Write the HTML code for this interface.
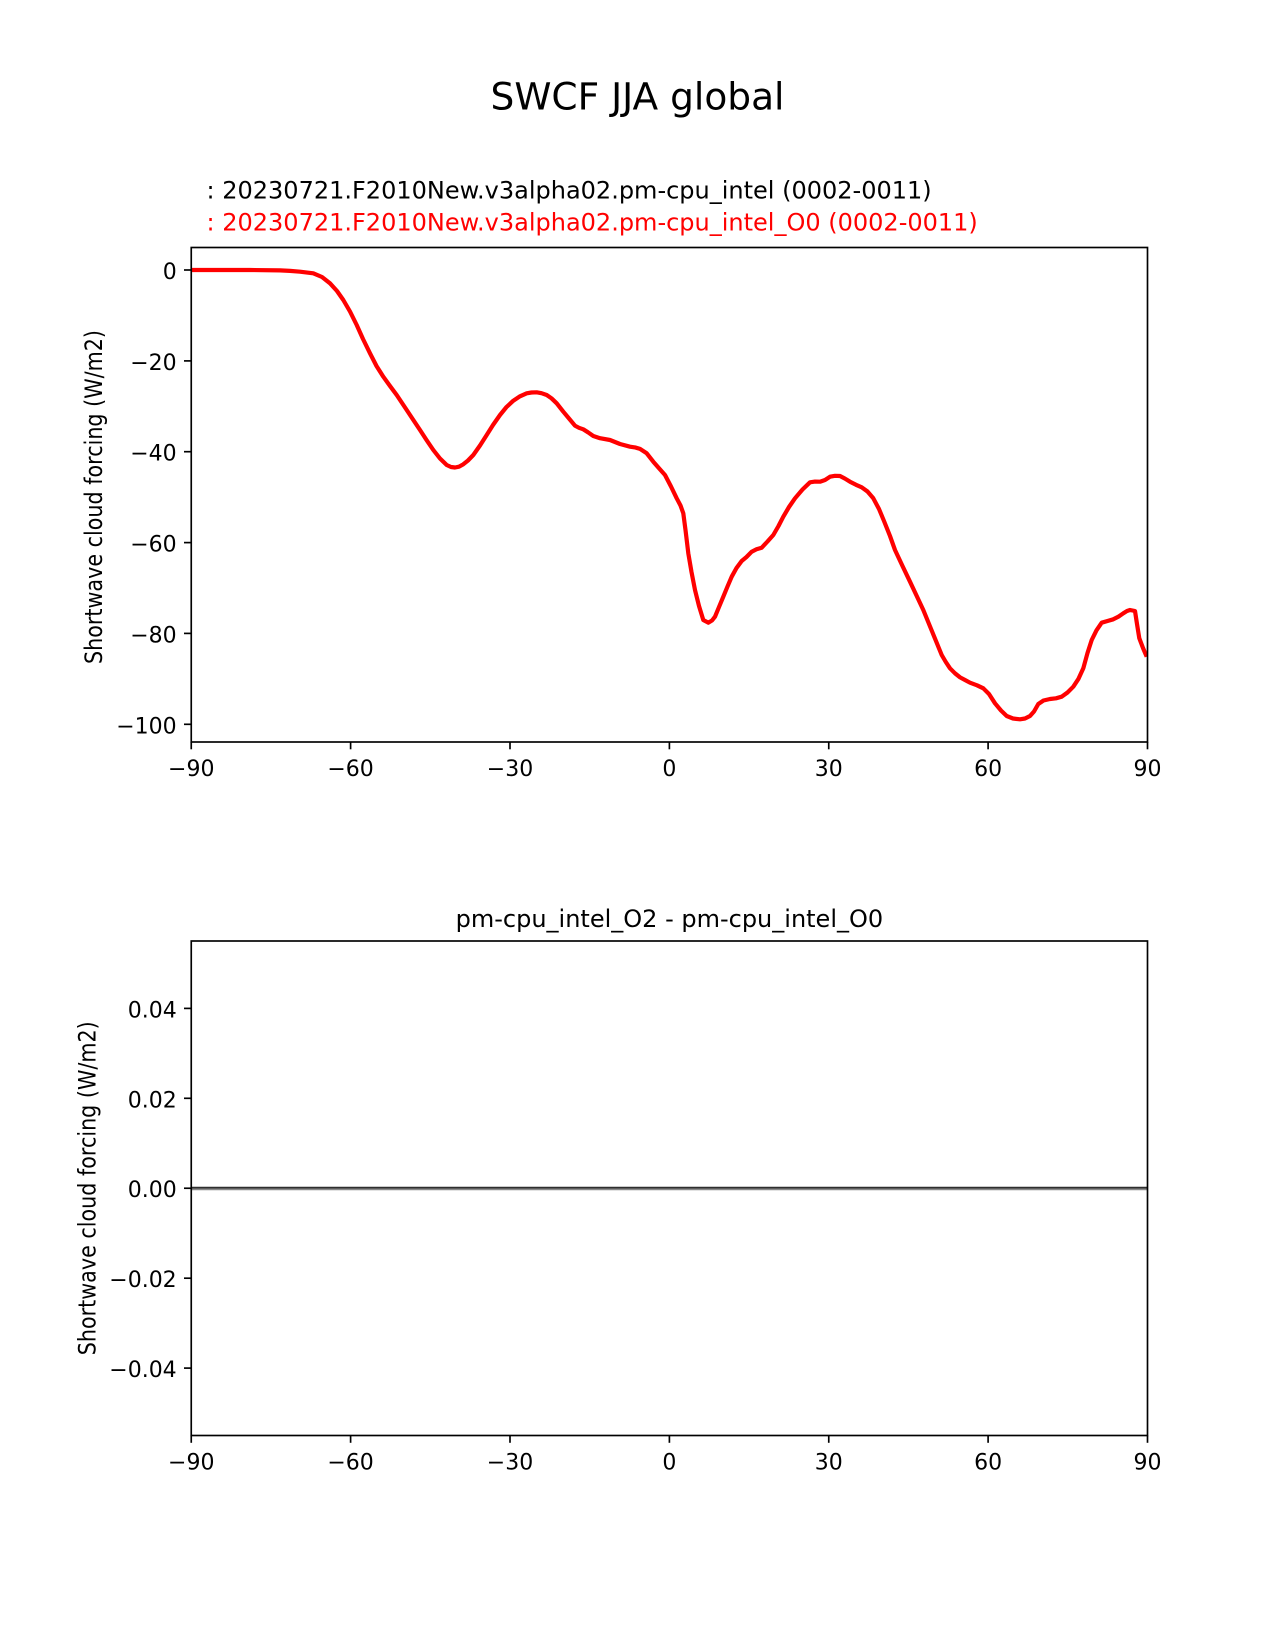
<!DOCTYPE html>
<html>
<head>
<meta charset="utf-8">
<style>
  html, body { margin: 0; padding: 0; background: #ffffff; }
  svg { display: block; }
  text { font-family: "DejaVu Sans", "Liberation Sans", sans-serif; fill: #000; }
</style>
</head>
<body>
<svg width="1275" height="1650" viewBox="0 0 1275 1650" xmlns="http://www.w3.org/2000/svg">
  <rect x="0" y="0" width="1275" height="1650" fill="#ffffff"/>

  <!-- Suptitle -->
  <text x="637.5" y="109.3" font-size="37.5" text-anchor="middle">SWCF JJA global</text>

  <!-- Legend-like texts -->
  <text x="206.5" y="198.3" font-size="24">: 20230721.F2010New.v3alpha02.pm-cpu_intel (0002-0011)</text>
  <text x="206.5" y="230.6" font-size="24" style="fill:#ff0000">: 20230721.F2010New.v3alpha02.pm-cpu_intel_O0 (0002-0011)</text>

  <!-- ===== Top axes ===== -->
  <defs>
    <clipPath id="clipTop"><rect x="191.25" y="247.5" width="956.25" height="494.5"/></clipPath>
  </defs>
  <g clip-path="url(#clipTop)">
    <path fill="none" stroke="#ff0000" stroke-width="4.2" stroke-linejoin="round" stroke-linecap="butt"
      d="M191.25,270 L250,270 L280,270.4 L290,270.9 L300,271.7 L313.3,273.3 L322,277 L330,283.3 L337,291 L343.3,300 L350,311.5 L356.7,325 L363,339 L370,353.3 L376.5,366 L383.3,376.7 L390,386 L396.7,395 L406.7,410 L413,419.5 L420,430 L426.5,440 L433.3,450 L440,458.5 L446.7,465 L451,467 L455,467.5 L459,466.7 L463.3,464.3 L468,460.5 L473.3,455 L480,445.5 L486.7,435 L493,425 L500,415 L506.5,407 L513.3,400.7 L520,396.3 L526.7,393.3 L531.5,392.5 L536.7,392.3 L541.5,393.2 L546.7,395 L551.5,398.3 L556.7,403.3 L563.3,411.7 L569,418.5 L575,425.7 L579,427.8 L583.3,429.3 L588,432.3 L593.3,436 L600,438.2 L610,440 L620,444 L630,446.7 L635,447.4 L640,448.9 L646.7,453.3 L653.3,461.7 L659,468.3 L665,475 L671,486.5 L676.7,498.3 L680.5,505.5 L683.3,513.3 L685.5,530 L688.3,553.3 L691.5,572 L695,590 L699,606 L703.3,620 L708.3,622.7 L712,620.5 L715,616.7 L719,607 L723.3,596.7 L727.5,586.5 L731.7,576.7 L736.5,568 L741.7,561 L746.5,557 L751.7,551.7 L756.5,549.3 L761.7,547.7 L767.5,541.5 L773.3,535 L778.5,526 L783.3,516.7 L789,507 L795,498.3 L802.5,489.5 L810,482.3 L815,481.6 L820,481.7 L825,480 L830,476.7 L835,475.8 L840,476 L845,478.6 L850,481.7 L856,484.8 L861.7,487.3 L867.5,491.5 L873.3,498.3 L879,509 L884,521 L890,536 L895,550 L902.5,566 L910,581.7 L916.5,595.5 L923.3,610 L932.5,632.5 L941.7,655 L945.8,662 L950,668.3 L955,673.3 L960,677.3 L965,680 L970,682.7 L977,685.3 L983.3,688.3 L989,694 L995,703.3 L1001,710.5 L1006.7,716 L1013,718.5 L1020,719.3 L1025,718.5 L1030,716 L1034,711.5 L1038.3,704 L1043.5,700.5 L1050,699 L1056,698.3 L1061.7,696.7 L1067.5,692.5 L1073.3,686.7 L1078.5,678.8 L1083.3,668.3 L1087.5,653 L1091.7,640 L1096.5,630.3 L1101.7,622.7 L1107.5,621 L1113.3,619.3 L1118.5,616.6 L1123.3,613.3 L1127,611 L1130,610 L1135,611 L1137,624 L1139.3,638.3 L1143,648 L1146.7,656.7"/>
  </g>
  <!-- Spines -->
  <rect x="191.25" y="247.5" width="956.25" height="494.5" fill="none" stroke="#000" stroke-width="1.67"/>
  <g stroke="#000" stroke-width="1.67">
    <line x1="184" y1="270" x2="191.25" y2="270"/>
    <line x1="184" y1="360.9" x2="191.25" y2="360.9"/>
    <line x1="184" y1="451.7" x2="191.25" y2="451.7"/>
    <line x1="184" y1="542.6" x2="191.25" y2="542.6"/>
    <line x1="184" y1="633.4" x2="191.25" y2="633.4"/>
    <line x1="184" y1="724.3" x2="191.25" y2="724.3"/>
    <line x1="191.25" y1="742" x2="191.25" y2="749.3"/>
    <line x1="350.6" y1="742" x2="350.6" y2="749.3"/>
    <line x1="510" y1="742" x2="510" y2="749.3"/>
    <line x1="669.4" y1="742" x2="669.4" y2="749.3"/>
    <line x1="828.75" y1="742" x2="828.75" y2="749.3"/>
    <line x1="988.1" y1="742" x2="988.1" y2="749.3"/>
    <line x1="1147.5" y1="742" x2="1147.5" y2="749.3"/>
  </g>
  <g font-size="22" text-anchor="end">
    <text x="176.7" y="279">0</text>
    <text x="176.7" y="369.9">−20</text>
    <text x="176.7" y="460.7">−40</text>
    <text x="176.7" y="551.6">−60</text>
    <text x="176.7" y="642.4">−80</text>
    <text x="176.7" y="733.3">−100</text>
  </g>
  <g font-size="22" text-anchor="middle">
    <text x="191.25" y="776">−90</text>
    <text x="350.6" y="776">−60</text>
    <text x="510" y="776">−30</text>
    <text x="669.4" y="776">0</text>
    <text x="828.75" y="776">30</text>
    <text x="988.1" y="776">60</text>
    <text x="1147.5" y="776">90</text>
  </g>
  <text transform="translate(102,497) rotate(-90)" font-size="24" text-anchor="middle" textLength="334" lengthAdjust="spacingAndGlyphs">Shortwave cloud forcing (W/m2)</text>

  <!-- ===== Bottom axes ===== -->
  <text x="669.4" y="927" font-size="24" text-anchor="middle">pm-cpu_intel_O2 - pm-cpu_intel_O0</text>
  <line x1="191.25" y1="1189.4" x2="1147.5" y2="1189.4" stroke="#8a8a8a" stroke-width="1.7"/>
  <line x1="191.25" y1="1187.6" x2="1147.5" y2="1187.6" stroke="#2e2e2e" stroke-width="1.7"/>
  <rect x="191.25" y="941" width="956.25" height="494.5" fill="none" stroke="#000" stroke-width="1.67"/>
  <g stroke="#000" stroke-width="1.67">
    <line x1="184" y1="1008.4" x2="191.25" y2="1008.4"/>
    <line x1="184" y1="1098.3" x2="191.25" y2="1098.3"/>
    <line x1="184" y1="1188.25" x2="191.25" y2="1188.25"/>
    <line x1="184" y1="1278.2" x2="191.25" y2="1278.2"/>
    <line x1="184" y1="1368.1" x2="191.25" y2="1368.1"/>
    <line x1="191.25" y1="1435.5" x2="191.25" y2="1442.8"/>
    <line x1="350.6" y1="1435.5" x2="350.6" y2="1442.8"/>
    <line x1="510" y1="1435.5" x2="510" y2="1442.8"/>
    <line x1="669.4" y1="1435.5" x2="669.4" y2="1442.8"/>
    <line x1="828.75" y1="1435.5" x2="828.75" y2="1442.8"/>
    <line x1="988.1" y1="1435.5" x2="988.1" y2="1442.8"/>
    <line x1="1147.5" y1="1435.5" x2="1147.5" y2="1442.8"/>
  </g>
  <g font-size="22" text-anchor="end">
    <text x="176.7" y="1017.4">0.04</text>
    <text x="176.7" y="1107.3">0.02</text>
    <text x="176.7" y="1197.2">0.00</text>
    <text x="176.7" y="1287.2">−0.02</text>
    <text x="176.7" y="1377.1">−0.04</text>
  </g>
  <g font-size="22" text-anchor="middle">
    <text x="191.25" y="1469.5">−90</text>
    <text x="350.6" y="1469.5">−60</text>
    <text x="510" y="1469.5">−30</text>
    <text x="669.4" y="1469.5">0</text>
    <text x="828.75" y="1469.5">30</text>
    <text x="988.1" y="1469.5">60</text>
    <text x="1147.5" y="1469.5">90</text>
  </g>
  <text transform="translate(95.4,1188.25) rotate(-90)" font-size="24" text-anchor="middle" textLength="334" lengthAdjust="spacingAndGlyphs">Shortwave cloud forcing (W/m2)</text>
</svg>
</body>
</html>
